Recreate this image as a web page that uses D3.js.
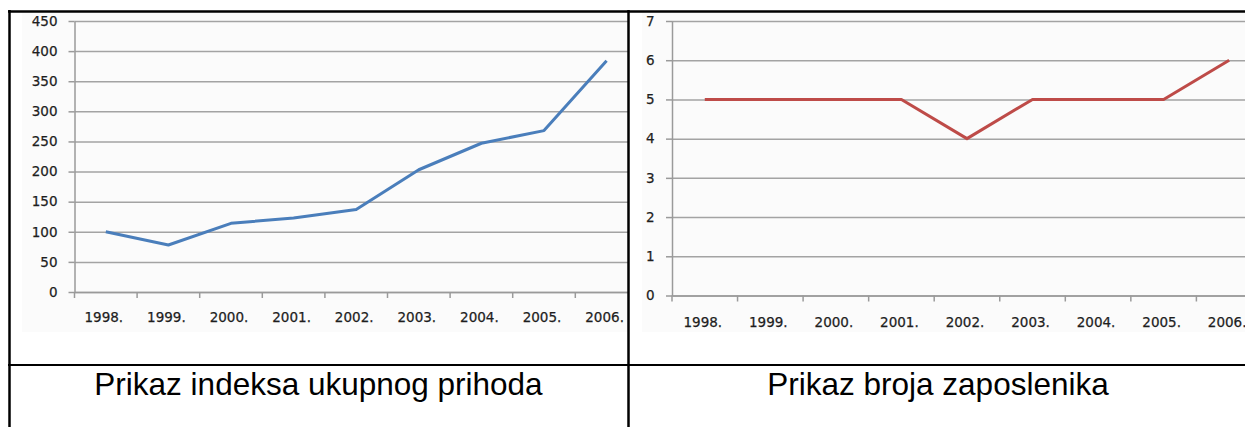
<!DOCTYPE html>
<html>
<head>
<meta charset="utf-8">
<script src="https://cdn.jsdelivr.net/npm/d3@7/dist/d3.min.js"></script>
<style>
  html, body { margin: 0; padding: 0; background: #fff; }
  svg { display: block; }
  .tick text { font-family: "DejaVu Sans", Verdana, sans-serif; font-size: 13.5px; fill: #1e1e1e; stroke: #1e1e1e; stroke-width: 0.25px; }
  .caption { font-family: "Liberation Sans", Arial, sans-serif; font-size: 31.5px; fill: #000; }
</style>
</head>
<body>
<svg id="chart" width="1245" height="427"></svg>
<script>
// Years shown on both category axes
const years = ["1998.", "1999.", "2000.", "2001.", "2002.", "2003.", "2004.", "2005.", "2006."];
// Total revenue index per year
const revenueIndex = [100, 78, 114, 123, 137, 203, 247, 268, 384];
// Number of employees per year
const employees = [5, 5, 5, 5, 4, 5, 5, 5, 6];
// Value axis ticks
const revenueTicks = [0, 50, 100, 150, 200, 250, 300, 350, 400, 450];
const employeeTicks = [0, 1, 2, 3, 4, 5, 6, 7];
// Captions under each chart
const captions = ["Prikaz indeksa ukupnog prihoda", "Prikaz broja zaposlenika"];

const svg = d3.select("#chart");
const W = 1245, H = 427;

const gridColor = "#a3a3a3";
const axisColor = "#9a9a9a";

function drawPanel(cfg) {
  const clipId = "clip-" + cfg.id;
  svg.append("clipPath").attr("id", clipId)
    .append("rect")
    .attr("x", cfg.cell[0]).attr("y", cfg.cell[1])
    .attr("width", cfg.cell[2] - cfg.cell[0]).attr("height", cfg.cell[3] - cfg.cell[1]);

  const g = svg.append("g").attr("clip-path", `url(#${clipId})`);

  // faint chart-area fill
  g.append("rect")
    .attr("x", cfg.bg[0]).attr("y", cfg.bg[1])
    .attr("width", cfg.bg[2] - cfg.bg[0]).attr("height", cfg.bg[3] - cfg.bg[1])
    .attr("fill", "#fbfbfb");

  const x = d3.scaleBand().domain(years)
    .range([cfg.x0, cfg.x0 + cfg.band * years.length]).padding(0);
  const y = d3.scaleLinear().domain(cfg.domain).range([cfg.yBottom, cfg.yTop]);

  // horizontal gridlines
  g.append("g")
    .attr("transform", `translate(${cfg.x0},0)`)
    .call(d3.axisLeft(y).tickValues(cfg.ticks).tickSize(-(cfg.gridEnd - cfg.x0)).tickFormat(""))
    .call(s => s.select(".domain").remove())
    .call(s => s.selectAll(".tick line").attr("stroke", gridColor).attr("stroke-width", 1.5));

  // value axis
  g.append("g")
    .attr("transform", `translate(${cfg.x0},0)`)
    .call(d3.axisLeft(y).tickValues(cfg.ticks).tickFormat(d3.format("d"))
      .tickSize(6).tickPadding(cfg.yPad).tickSizeOuter(0))
    .call(s => s.select(".domain").attr("stroke", axisColor).attr("stroke-width", 1.5))
    .call(s => s.selectAll(".tick line").attr("stroke", axisColor).attr("stroke-width", 1.5));

  // category axis, tick marks between categories
  const bw = x.bandwidth();
  const xa = g.append("g")
    .attr("transform", `translate(0,${cfg.yBottom})`)
    .call(d3.axisBottom(x).tickSize(6).tickPadding(cfg.xPad).tickSizeOuter(0))
    .call(s => s.select(".domain").attr("stroke", axisColor).attr("stroke-width", 1.5))
    .call(s => s.selectAll(".tick line")
      .attr("x1", -bw / 2).attr("x2", -bw / 2)
      .attr("stroke", axisColor).attr("stroke-width", 1.5));
  xa.selectAll(".tick text").attr("dx", -2);

  // data line
  const line = d3.line()
    .x((d, i) => x(years[i]) + bw / 2)
    .y(d => y(d));
  g.append("path")
    .datum(cfg.values)
    .attr("d", line)
    .attr("fill", "none")
    .attr("stroke", cfg.color)
    .attr("stroke-width", 3)
    .attr("stroke-linejoin", "round");
}

drawPanel({
  id: "revenue",
  cell: [10, 12, 628, 364],
  bg: [22, 13, 628, 332],
  x0: 74.5, band: 62.6,
  yTop: 21, yBottom: 292,
  gridEnd: 628,
  domain: [0, 450], ticks: revenueTicks,
  yPad: 11, xPad: 14,
  values: revenueIndex, color: "#4a7ebb"
});

drawPanel({
  id: "employees",
  cell: [630, 12, W, 364],
  bg: [642, 13, W, 332],
  x0: 672, band: 65.55,
  yTop: 21, yBottom: 295.5,
  gridEnd: W,
  domain: [0, 7], ticks: employeeTicks,
  yPad: 11.5, xPad: 15.5,
  values: employees, color: "#be4b48"
});

// table frame
const frame = svg.append("g").attr("stroke", "#000").attr("fill", "none");
frame.append("line").attr("x1", 8).attr("x2", W).attr("y1", 11.5).attr("y2", 11.5).attr("stroke-width", 2.5);
frame.append("line").attr("x1", 8).attr("x2", W).attr("y1", 365).attr("y2", 365).attr("stroke-width", 2);
frame.append("line").attr("x1", 9.5).attr("x2", 9.5).attr("y1", 10).attr("y2", H).attr("stroke-width", 2.5);
frame.append("line").attr("x1", 628.5).attr("x2", 628.5).attr("y1", 10).attr("y2", H).attr("stroke-width", 2.5);

// captions
const captionCenters = [318.5, 938];
svg.selectAll("text.caption")
  .data(captions)
  .join("text")
  .attr("class", "caption")
  .attr("x", (d, i) => captionCenters[i])
  .attr("y", 395)
  .attr("text-anchor", "middle")
  .text(d => d);
</script>
</body>
</html>
